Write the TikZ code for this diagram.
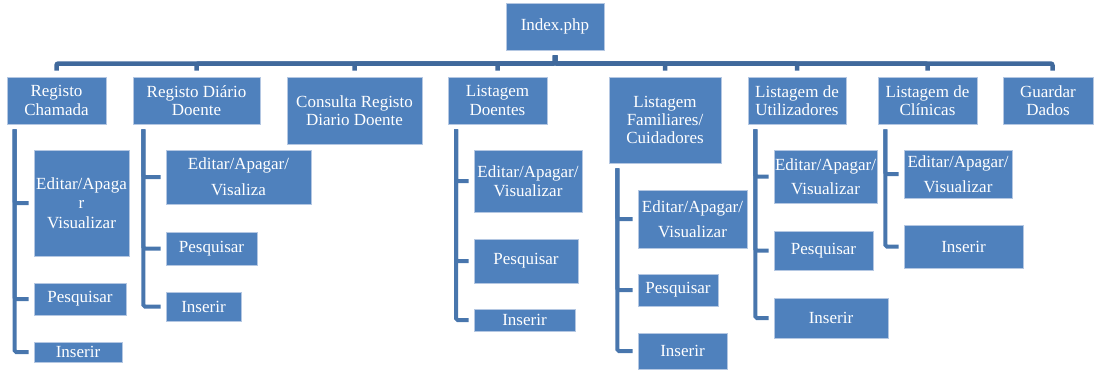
\documentclass[tikz,border=0pt]{standalone}
\usepackage{fontspec}
\setmainfont{Liberation Serif}
\definecolor{boxfill}{HTML}{4F81BD}
\definecolor{boxedge}{HTML}{B4C7E2}
\definecolor{buscol}{HTML}{40699C}
\definecolor{brcol}{HTML}{4876AD}
\tikzset{
  box/.style={fill=boxfill, draw=boxedge, line width=0.7pt, text=white,
    inner sep=0pt, align=center, font=\fontsize{17}{18.3}\selectfont},
  lsp/.style={font=\fontsize{17}{#1}\selectfont},
  bus/.style={draw=buscol, line width=4.5pt, rounded corners=2pt,
    shorten <=5pt, shorten >=6pt},
  bracket/.style={draw=brcol, line width=4pt, rounded corners=1.5pt,
    shorten >=5pt},
}
% \bx[options]{name}{x1}{y1}{x2}{y2}{text}: box given by its corners
\newcommand\bx[7][]{\node[box,#1,minimum width={(#5-#3)*1pt},
  minimum height={(#6-#4)*1pt}] (#2) at ({(#3+#5)/2},{(#4+#6)/2}) {#7};}
\begin{document}
\begin{tikzpicture}[x=1pt,y=-1pt]
\useasboundingbox (0,0) rectangle (1096,370);

% root
\bx{idx}{506}{3}{604}{50}{Index.php}

% first level
\bx{rc}{7}{77}{106}{124}{Registo\\Chamada}
\bx{rd}{133}{77}{260}{124}{Registo Diário\\Doente}
\bx[lsp=17.7]{cr}{287}{77}{422}{144}{Consulta Registo\\Diario Doente}
\bx{ld}{448}{77}{547}{124}{Listagem\\Doentes}
\bx{lf}{609}{77}{721}{163}{Listagem\\Familiares/\\Cuidadores}
\bx{lu}{748}{77}{846}{124}{Listagem de\\Utilizadores}
\bx{lc}{878}{77}{977}{124}{Listagem de\\Clínicas}
\bx{gd}{1003}{77}{1093}{124}{Guardar\\Dados}

% second level
\bx[lsp=19.5]{rc1}{34}{150}{129}{256}{Editar/Apaga\\r\\Visualizar}
\bx{rc2}{34}{283}{126}{315}{Pesquisar}
\bx{rc3}{34}{342}{122}{362}{Inserir}

\bx[lsp=26]{rd1}{166}{150}{311}{204}{Editar/Apagar/\\Visaliza}
\bx{rd2}{166}{232}{257}{265}{Pesquisar}
\bx{rd3}{166}{292}{241}{321}{Inserir}

\bx[lsp=19]{ld1}{474}{150}{582}{212}{Editar/Apagar/\\Visualizar}
\bx{ld2}{474}{239}{578}{283}{Pesquisar}
\bx{ld3}{474}{309}{575}{331}{Inserir}

\bx[lsp=25]{lf1}{638}{190}{747}{248}{Editar/Apagar/\\Visualizar}
\bx{lf2}{638}{274}{718}{306}{Pesquisar}
\bx{lf3}{638}{333}{727}{369}{Inserir}

\bx[lsp=24]{lu1}{774}{150}{877}{203}{Editar/Apagar/\\Visualizar}
\bx{lu2}{774}{231}{873}{270}{Pesquisar}
\bx{lu3}{774}{298}{888}{338}{Inserir}

\bx[lsp=25]{lc1}{904}{150}{1012}{198}{Editar/Apagar/\\Visualizar}
\bx{lc2}{904}{225}{1023}{268}{Inserir}

% root to first level
\coordinate (busy) at (0,63.5);
\foreach \c in {rc,rd,cr,ld,lf,lu,lc}
  \draw[bus] (idx.south) -- (idx.south |- busy) -| (\c.north);
\draw[bus] (idx.south) -- (idx.south |- busy) -| ([xshift=4.5pt]gd.north);

% first level to second level
\foreach \c in {rc1,rc2,rc3}
  \draw[bracket] ([xshift=8pt,yshift=-5pt]rc.south west) |- (\c.west);
\foreach \c in {rd1,rd2,rd3}
  \draw[bracket] ([xshift=10.7pt,yshift=-5pt]rd.south west) |- (\c.west);
\foreach \c in {ld1,ld2,ld3}
  \draw[bracket] ([xshift=8.5pt,yshift=-5pt]ld.south west) |- (\c.west);
\foreach \c in {lf1,lf2,lf3}
  \draw[bracket] ([xshift=8.7pt,yshift=-5pt]lf.south west) |- (\c.west);
\foreach \c in {lu1,lu2,lu3}
  \draw[bracket] ([xshift=7.7pt,yshift=-5pt]lu.south west) |- (\c.west);
\foreach \c in {lc1,lc2}
  \draw[bracket] ([xshift=7.7pt,yshift=-5pt]lc.south west) |- (\c.west);
\end{tikzpicture}
\end{document}
